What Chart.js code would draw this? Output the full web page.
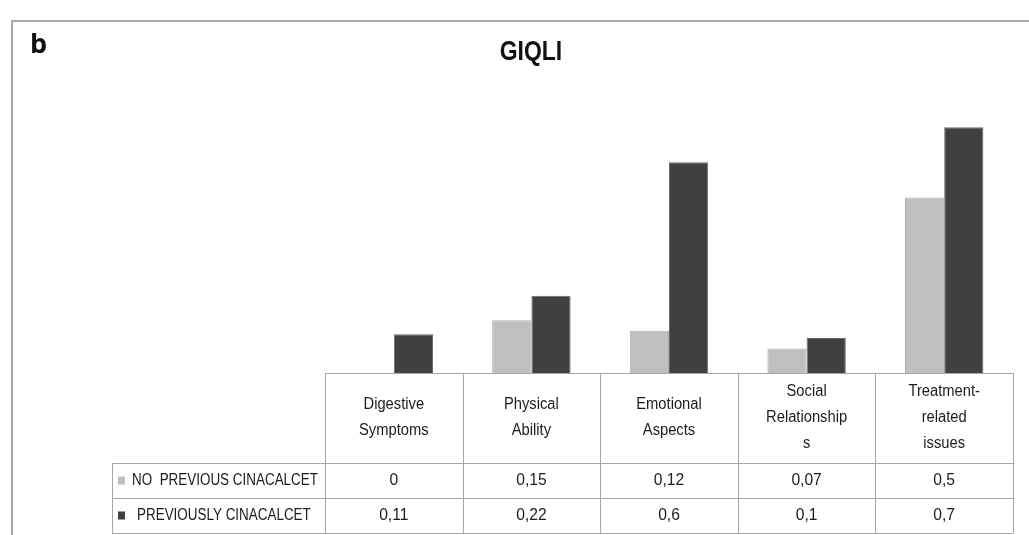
<!DOCTYPE html>
<html>
<head>
<meta charset="utf-8">
<script src="https://cdn.jsdelivr.net/npm/chart.js@4"></script>
<style>
  html, body { margin: 0; padding: 0; background: #fff; }
  #wrap { width: 1029px; height: 535px; position: relative; }
</style>
</head>
<body>
<div id="wrap"><canvas id="giqli" width="1029" height="535"></canvas></div>
<script>
// GIQLI dominios (cabecera de la tabla, una entrada por línea)
const categories = [
    ['Digestive', 'Symptoms'],
    ['Physical', 'Ability'],
    ['Emotional', 'Aspects'],
    ['Social', 'Relationship', 's'],
    ['Treatment-', 'related', 'issues']
];
const seriesNames = ['NO  PREVIOUS CINACALCET', 'PREVIOUSLY CINACALCET'];
const noPrevious = [0, 0.15, 0.12, 0.07, 0.5];
const previously = [0.11, 0.22, 0.6, 0.1, 0.7];

const LIGHT = '#bfbfbf';
const DARK = '#404040';
const FONT = '"Liberation Sans", Arial, sans-serif';

function fmt(v) { return String(v).replace('.', ','); }

// texto estrecho (estilo Calibri) comprimiendo en horizontal
function narrowText(ctx, text, x, y, sx) {
    ctx.save();
    ctx.translate(x, y);
    ctx.scale(sx, 1);
    ctx.fillText(text, 0, 0);
    ctx.restore();
}

// Marco, título y tabla de datos debajo del eje
const tablePlugin = {
    id: 'dataTable',
    afterDraw(chart) {
        const ctx = chart.ctx;
        const x = chart.scales.x;
        const area = chart.chartArea;
        const n = categories.length;
        const colW = (area.right - area.left) / n;
        const top = area.bottom;
        const headBottom = top + 90;
        const row1 = headBottom + 35;
        const row2 = row1 + 35;
        const legendLeft = 112;

        ctx.save();
        // borde exterior
        ctx.strokeStyle = '#a8a8a8';
        ctx.lineWidth = 2;
        ctx.beginPath();
        ctx.moveTo(12, 540);
        ctx.lineTo(12, 21);
        ctx.lineTo(1035, 21);
        ctx.stroke();

        // "b" y título
        ctx.fillStyle = '#111';
        ctx.textBaseline = 'middle';
        ctx.textAlign = 'left';
        ctx.font = 'bold 27px "Open Sans", "Liberation Sans", sans-serif';
        ctx.fillText('b', 30, 45);
        ctx.textAlign = 'center';
        ctx.font = 'bold 28px ' + FONT;
        narrowText(ctx, 'GIQLI', 531, 52, 0.82);

        // líneas de la tabla
        ctx.strokeStyle = '#a6a6a6';
        ctx.lineWidth = 1;
        ctx.beginPath();
        ctx.moveTo(area.left, top + 0.5);
        ctx.lineTo(area.right, top + 0.5);
        [headBottom, row1, row2].forEach(y => {
            ctx.moveTo(legendLeft, y + 0.5);
            ctx.lineTo(area.right, y + 0.5);
        });
        for (let i = 0; i <= n; i++) {
            const cx = Math.round(area.left + i * colW) + 0.5;
            ctx.moveTo(cx, top);
            ctx.lineTo(cx, row2);
        }
        ctx.moveTo(legendLeft + 0.5, headBottom);
        ctx.lineTo(legendLeft + 0.5, row2);
        ctx.stroke();

        // cabecera
        ctx.fillStyle = '#1c1c1c';
        ctx.font = '16px ' + FONT;
        const lh = 26;
        const headMid = (top + headBottom) / 2;
        categories.forEach((lines, i) => {
            const cx = x.getPixelForValue(i);
            const y0 = headMid - (lines.length - 1) * lh / 2;
            lines.forEach((t, k) => narrowText(ctx, t, cx, y0 + k * lh, 0.92));
        });

        // filas de valores
        const rows = [noPrevious, previously];
        const rowMids = [(headBottom + row1) / 2, (row1 + row2) / 2];
        const colors = [LIGHT, DARK];
        rows.forEach((vals, r) => {
            ctx.fillStyle = '#1c1c1c';
            ctx.textAlign = 'center';
            ctx.font = '17px ' + FONT;
            vals.forEach((v, i) => narrowText(ctx, fmt(v), x.getPixelForValue(i), rowMids[r], 0.92));
            // clave de leyenda + nombre de la serie
            ctx.fillStyle = colors[r];
            ctx.fillRect(legendLeft + 6, rowMids[r] - 4, 7, 8);
            ctx.fillStyle = '#1c1c1c';
            ctx.textAlign = 'left';
            ctx.font = '16px ' + FONT;
            narrowText(ctx, seriesNames[r], legendLeft + (r === 0 ? 20 : 25), rowMids[r], 0.84);
        });
        ctx.restore();
    }
};

new Chart(document.getElementById('giqli'), {
    type: 'bar',
    data: {
        labels: categories,
        datasets: [
            { label: seriesNames[0], data: noPrevious, backgroundColor: LIGHT, borderColor: '#b0b0b0', borderWidth: 1 },
            { label: seriesNames[1], data: previously, backgroundColor: DARK, borderColor: '#6a6a6a', borderWidth: 1 }
        ]
    },
    options: {
        responsive: false,
        animation: false,
        layout: { padding: { left: 325, right: 16, top: 92, bottom: 162 } },
        datasets: { bar: { categoryPercentage: 0.57, barPercentage: 1 } },
        plugins: { legend: { display: false }, title: { display: false }, tooltip: { enabled: false } },
        scales: {
            x: { display: false },
            y: { display: false, min: 0, max: 0.8 }
        }
    },
    plugins: [tablePlugin]
});
</script>
</body>
</html>
